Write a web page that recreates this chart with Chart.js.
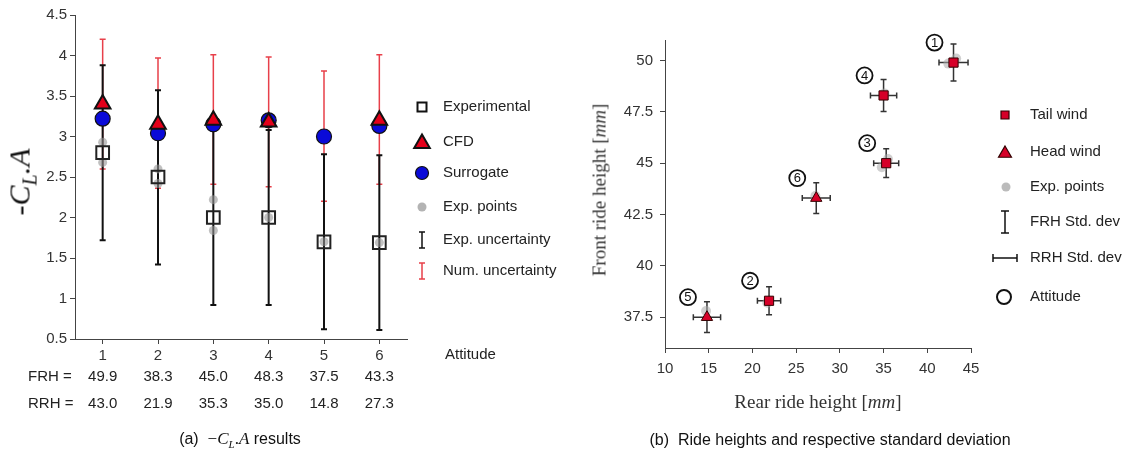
<!DOCTYPE html>
<html><head><meta charset="utf-8">
<script src="https://cdn.jsdelivr.net/npm/chart.js@4.4.0/dist/chart.umd.min.js"></script>
<style>
body{margin:0;background:#fff;width:1127px;height:459px;overflow:hidden;position:relative;font-family:"Liberation Sans",Arial,sans-serif;}
canvas{position:absolute;top:0;}
#c1{left:0}
#c2{left:560px}
.lbl{position:absolute;white-space:nowrap;color:#111;transform:translate(-50%,-50%);line-height:1;}
.rot{transform:translate(-50%,-50%) rotate(-90deg);}
.serif{font-family:"Liberation Serif","DejaVu Serif",serif;}
</style></head><body>
<canvas id="c1" width="560" height="459"></canvas>
<canvas id="c2" width="567" height="459"></canvas>
<div class="lbl rot serif" style="left:22px;top:182px;font-size:30px;">-<i>C</i><sub style="font-size:20px"><i>L</i></sub><i>.A</i></div>
<div class="lbl" style="left:240px;top:440px;font-size:16px;">(a) &nbsp;<span class="serif" style="font-size:17px">−<i>C</i><sub style="font-size:11px"><i>L</i></sub>.<i>A</i></span> results</div>
<div class="lbl" style="left:830px;top:440px;font-size:16px;">(b) &nbsp;Ride heights and respective standard deviation</div>
<div class="lbl rot serif" style="left:599px;top:190px;font-size:19px;color:#333;">Front ride height [<i>mm</i>]</div>
<div class="lbl serif" style="left:818px;top:401px;font-size:19px;color:#333;">Rear ride height [<i>mm</i>]</div>
<script>
// ---------- data ----------
const attitudes = [1, 2, 3, 4, 5, 6];
const experimental = [2.80, 2.50, 2.00, 2.00, 1.70, 1.69];
const cfd = [3.40, 3.15, 3.20, 3.18, null, 3.20];
const surrogate = [3.22, 3.04, 3.15, 3.20, 3.00, 3.13];
const expLow = [1.72, 1.42, 0.92, 0.92, 0.62, 0.61];
const expHigh = [3.88, 3.57, 3.08, 3.08, 2.78, 2.77];
const numLow = [2.60, 2.36, 2.41, 2.38, 2.20, 2.41];
const numHigh = [4.20, 3.97, 4.01, 3.98, 3.81, 4.01];
const expPtsX = [1, 1, 2, 2, 3, 3, 4, 5, 6];
const expPtsY = [2.93, 2.68, 2.60, 2.42, 2.22, 1.84, 2.00, 1.70, 1.69];
const leftYTicks = [0.5, 1, 1.5, 2, 2.5, 3, 3.5, 4, 4.5];

const frh = [49.9, 38.3, 45.0, 48.3, 37.5, 43.3];
const rrh = [43.0, 21.9, 35.3, 35.0, 14.8, 27.3];
const frhStd = [0.90, 0.68, 0.70, 0.78, 0.75, 0.75];
const rrhStd = [1.66, 1.33, 1.43, 1.50, 1.56, 1.60];
const wind = ['tail', 'tail', 'tail', 'tail', 'head', 'head'];
const expRX = [42.4, 43.3, 21.7, 34.8, 35.5, 35.1, 14.7, 27.2];
const expRY = [49.85, 50.1, 38.2, 44.8, 45.2, 48.4, 37.8, 43.4];
const rightXTicks = [10, 15, 20, 25, 30, 35, 40, 45];
const rightYTicks = [37.5, 40, 42.5, 45, 47.5, 50];

// ---------- helpers ----------
const FONT = '15px "Liberation Sans", Arial, sans-serif';
function sq(ctx, x, y, s, fill, stroke, lw) {
  ctx.beginPath(); ctx.rect(x - s / 2, y - s / 2, s, s);
  if (fill) { ctx.fillStyle = fill; ctx.fill(); }
  if (stroke) { ctx.strokeStyle = stroke; ctx.lineWidth = lw; ctx.stroke(); }
}
function tri(ctx, x, y, r, fill, stroke, lw) {
  ctx.beginPath();
  for (let k = 0; k < 3; k++) {
    const a = k * 2 * Math.PI / 3;
    const px = x + Math.sin(a) * r, py = y - Math.cos(a) * r;
    if (k === 0) ctx.moveTo(px, py); else ctx.lineTo(px, py);
  }
  ctx.closePath();
  ctx.fillStyle = fill; ctx.fill();
  ctx.strokeStyle = stroke; ctx.lineWidth = lw; ctx.lineJoin = 'miter'; ctx.stroke();
}
function circ(ctx, x, y, r, fill, stroke, lw) {
  ctx.beginPath(); ctx.arc(x, y, r, 0, Math.PI * 2);
  if (fill) { ctx.fillStyle = fill; ctx.fill(); }
  if (stroke) { ctx.strokeStyle = stroke; ctx.lineWidth = lw; ctx.stroke(); }
}
function vbar(ctx, x, y1, y2, cap, color, lw) {
  ctx.strokeStyle = color; ctx.lineWidth = lw; ctx.beginPath();
  ctx.moveTo(x, y1); ctx.lineTo(x, y2);
  ctx.moveTo(x - cap, y1); ctx.lineTo(x + cap, y1);
  ctx.moveTo(x - cap, y2); ctx.lineTo(x + cap, y2);
  ctx.stroke();
}
function hbar(ctx, y, x1, x2, cap, color, lw) {
  ctx.strokeStyle = color; ctx.lineWidth = lw; ctx.beginPath();
  ctx.moveTo(x1, y); ctx.lineTo(x2, y);
  ctx.moveTo(x1, y - cap); ctx.lineTo(x1, y + cap);
  ctx.moveTo(x2, y - cap); ctx.lineTo(x2, y + cap);
  ctx.stroke();
}
function axisStyle(extra) {
  return Object.assign({
    type: 'linear',
    border: { color: '#444', width: 1 },
    grid: { drawOnChartArea: false, drawTicks: true, tickLength: 5, color: '#444', lineWidth: 1 },
  }, extra);
}
const tickFont = { size: 15, family: '"Liberation Sans", Arial, sans-serif' };
const plain = v => String(v);

// ---------- left chart ----------
const RED = '#e4001a';
const leftBars = {
  id: 'leftBars',
  beforeDatasetsDraw(chart) {
    const ctx = chart.ctx, xs = chart.scales.x, ys = chart.scales.y;
    ctx.save();
    attitudes.forEach((a, i) => {
      const px = xs.getPixelForValue(a);
      vbar(ctx, px, ys.getPixelForValue(numLow[i]), ys.getPixelForValue(numHigh[i]), 3, '#e8404a', 1.5);
    });
    attitudes.forEach((a, i) => {
      const px = xs.getPixelForValue(a);
      vbar(ctx, px, ys.getPixelForValue(expLow[i]), ys.getPixelForValue(expHigh[i]), 3, '#111', 2);
    });
    ctx.restore();
  },
  afterDraw(chart) {
    const ctx = chart.ctx, xs = chart.scales.x, ca = chart.chartArea;
    ctx.save();
    ctx.font = FONT; ctx.fillStyle = '#222'; ctx.textBaseline = 'middle';
    ctx.textAlign = 'center';
    attitudes.forEach((a, i) => {
      const px = xs.getPixelForValue(a);
      ctx.fillText(frh[i].toFixed(1), px, ca.bottom + 38);
      ctx.fillText(rrh[i].toFixed(1), px, ca.bottom + 65);
    });
    ctx.textAlign = 'left';
    ctx.fillText('FRH =', 28, ca.bottom + 38);
    ctx.fillText('RRH =', 28, ca.bottom + 65);
    ctx.fillText('Attitude', ca.right + 38, ca.bottom + 16);
    // legend
    const mx = ca.right + 15, tx = ca.right + 36;
    const rows = [107, 142, 173, 207, 240, 271];
    const labels = ['Experimental', 'CFD', 'Surrogate', 'Exp. points', 'Exp. uncertainty', 'Num. uncertainty'];
    sq(ctx, mx, rows[0], 9, '#fff', '#111', 2);
    tri(ctx, mx, rows[1] + 1.5, 9, RED, '#111', 2);
    circ(ctx, mx, rows[2], 6.5, '#0a0ad8', '#111', 1.2);
    circ(ctx, mx, rows[3], 4.5, 'rgba(160,160,160,0.8)', null, 0);
    vbar(ctx, mx, rows[4] - 8, rows[4] + 8, 3, '#111', 1.5);
    vbar(ctx, mx, rows[5] - 8, rows[5] + 8, 3, '#e8404a', 1.5);
    ctx.fillStyle = '#222';
    labels.forEach((l, i) => ctx.fillText(l, tx, rows[i]));
    ctx.restore();
  }
};

new Chart(document.getElementById('c1'), {
  type: 'scatter',
  data: {
    datasets: [
      { label: 'CFD', order: 0, data: attitudes.map((a, i) => ({ x: a, y: cfd[i] })),
        pointStyle: 'triangle', pointRadius: 9, backgroundColor: RED, borderColor: '#111', borderWidth: 2 },
      { label: 'Surrogate', order: 1, data: attitudes.map((a, i) => ({ x: a, y: surrogate[i] })),
        pointStyle: 'circle', pointRadius: 7.5, backgroundColor: '#0a0ad8', borderColor: '#111', borderWidth: 1.2 },
      { label: 'Experimental', order: 2, data: attitudes.map((a, i) => ({ x: a, y: experimental[i] })),
        pointStyle: 'rect', pointRadius: 9, backgroundColor: 'rgba(255,255,255,0)', borderColor: '#222', borderWidth: 2 },
      { label: 'Exp. points', order: 3, data: expPtsX.map((x, i) => ({ x: x, y: expPtsY[i] })),
        pointStyle: 'circle', pointRadius: 4.5, backgroundColor: 'rgba(150,150,150,0.6)', borderWidth: 0 },
    ]
  },
  options: {
    responsive: false, animation: false, devicePixelRatio: 1, events: [],
    layout: { padding: { left: 0, top: 15, right: 153, bottom: 0 } },
    plugins: { legend: { display: false }, tooltip: { enabled: false } },
    scales: {
      x: axisStyle({ min: 0.5, max: 6.5,
        afterBuildTicks: s => { s.ticks = attitudes.map(v => ({ value: v })); },
        afterFit: s => { s.height = 120; },
        ticks: { font: tickFont, color: '#333', padding: 3, maxRotation: 0, callback: plain } }),
      y: axisStyle({ min: 0.5, max: 4.5,
        afterBuildTicks: s => { s.ticks = leftYTicks.map(v => ({ value: v })); },
        afterFit: s => { s.width = 75; },
        ticks: { font: tickFont, color: '#333', padding: 3, callback: plain } }),
    }
  },
  plugins: [leftBars]
});

// ---------- right chart ----------
const RRED = '#d60028';
const rightBars = {
  id: 'rightBars',
  beforeDatasetsDraw(chart) {
    const ctx = chart.ctx, xs = chart.scales.x, ys = chart.scales.y;
    ctx.save();
    frh.forEach((f, i) => {
      const px = xs.getPixelForValue(rrh[i]), py = ys.getPixelForValue(f);
      vbar(ctx, px, ys.getPixelForValue(f - frhStd[i]), ys.getPixelForValue(f + frhStd[i]), 3, '#333', 1.5);
      hbar(ctx, py, xs.getPixelForValue(rrh[i] - rrhStd[i]), xs.getPixelForValue(rrh[i] + rrhStd[i]), 3, '#333', 1.5);
    });
    ctx.restore();
  },
  afterDraw(chart) {
    const ctx = chart.ctx, xs = chart.scales.x, ys = chart.scales.y, ca = chart.chartArea;
    ctx.save();
    // attitude labels
    ctx.font = '13px "Liberation Sans", Arial, sans-serif'; ctx.textAlign = 'center'; ctx.textBaseline = 'middle';
    attitudes.forEach((a, i) => {
      const px = xs.getPixelForValue(rrh[i]) - 19, py = ys.getPixelForValue(frh[i]) - 20;
      circ(ctx, px, py, 8, '#fff', '#111', 1.8);
      ctx.fillStyle = '#111'; ctx.fillText(String(a), px, py + 0.5);
    });
    // legend
    const mx = ca.right + 34, tx = ca.right + 59;
    const rows = [115, 152, 187, 222, 258, 297];
    const labels = ['Tail wind', 'Head wind', 'Exp. points', 'FRH Std. dev', 'RRH Std. dev', 'Attitude'];
    sq(ctx, mx, rows[0], 8, RRED, '#300', 1.2);
    tri(ctx, mx, rows[1] + 1.5, 7.5, RRED, '#300', 1.2);
    circ(ctx, mx + 1, rows[2], 4.5, 'rgba(170,170,170,0.8)', null, 0);
    vbar(ctx, mx, rows[3] - 11, rows[3] + 11, 4, '#111', 1.5);
    hbar(ctx, rows[4], mx - 12, mx + 12, 4, '#111', 1.5);
    circ(ctx, mx - 1, rows[5], 7, null, '#111', 2);
    ctx.font = FONT; ctx.textAlign = 'left'; ctx.fillStyle = '#222';
    labels.forEach((l, i) => ctx.fillText(l, tx, rows[i]));
    ctx.restore();
  }
};

const tailIdx = attitudes.map((a, i) => i).filter(i => wind[i] === 'tail');
const headIdx = attitudes.map((a, i) => i).filter(i => wind[i] === 'head');
new Chart(document.getElementById('c2'), {
  type: 'scatter',
  data: {
    datasets: [
      { label: 'Tail wind', order: 0, data: tailIdx.map(i => ({ x: rrh[i], y: frh[i] })),
        pointStyle: 'rect', pointRadius: 6.5, backgroundColor: RRED, borderColor: '#300', borderWidth: 1 },
      { label: 'Head wind', order: 1, data: headIdx.map(i => ({ x: rrh[i], y: frh[i] })),
        pointStyle: 'triangle', pointRadius: 6.5, backgroundColor: RRED, borderColor: '#300', borderWidth: 1 },
      { label: 'Exp. points', order: 2, data: expRX.map((x, i) => ({ x: x, y: expRY[i] })),
        pointStyle: 'circle', pointRadius: 5, backgroundColor: 'rgba(170,170,170,0.55)', borderWidth: 0 },
    ]
  },
  options: {
    responsive: false, animation: false, devicePixelRatio: 1, events: [],
    layout: { padding: { left: 0, top: 40, right: 156, bottom: 0 } },
    plugins: { legend: { display: false }, tooltip: { enabled: false } },
    scales: {
      x: axisStyle({ min: 10, max: 45,
        afterBuildTicks: s => { s.ticks = rightXTicks.map(v => ({ value: v })); },
        afterFit: s => { s.height = 111; },
        ticks: { font: tickFont, color: '#333', padding: 7, maxRotation: 0, callback: plain } }),
      y: axisStyle({ min: 36, max: 51,
        afterBuildTicks: s => { s.ticks = rightYTicks.map(v => ({ value: v })); },
        afterFit: s => { s.width = 105; },
        ticks: { font: tickFont, color: '#333', padding: 7, callback: plain } }),
    }
  },
  plugins: [rightBars]
});
</script>
</body></html>
